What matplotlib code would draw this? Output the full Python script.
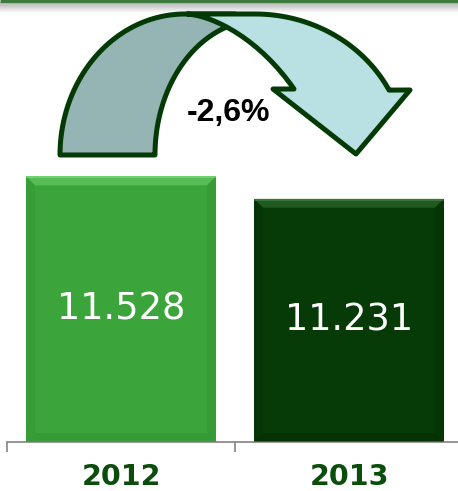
import numpy as np
import matplotlib
matplotlib.use("Agg")
import matplotlib.pyplot as plt
from matplotlib.path import Path
from matplotlib.patches import PathPatch, Polygon

# ---- data ----
years = ["2012", "2013"]
values = [11528, 11231]
bar_colors = ["#3ba53b", "#063a07"]
bevel_light = ["#74d474", "#3b7a3b"]
bevel_dark = ["#2f8a2f", "#032803"]

W, H = 458, 491
fig = plt.figure(figsize=(W / 100, H / 100), dpi=100)
fig.patch.set_facecolor("white")

# main bar axes: x from px 7 to 463, y from px 442 up to 0
ax_left = 7 / W
ax_bottom = (H - 442) / H
ax = fig.add_axes([ax_left, ax_bottom, 456 / W, 442 / H])
ax.set_xlim(-0.5, 1.5)
ax.set_ylim(8000, 13870)
ax.patch.set_alpha(0)

x = np.arange(len(years))
bars = ax.bar(x, values, width=0.833, color=bar_colors, zorder=2)

ypx = (13870 - 8000) / 442.0  # data units per pixel
xpx = 2.0 / 456.0
for b, cl, cd, v in zip(bars, bevel_light, bevel_dark, values):
    x0, w, h, y0 = b.get_x(), b.get_width(), b.get_height(), b.get_y()
    top = y0 + h
    bot = 8000
    bw, bh = 9 * xpx, 9 * ypx
    # top bevel
    ax.add_patch(Polygon([(x0, top), (x0 + w, top), (x0 + w - bw, top - bh), (x0 + bw, top - bh)],
                         closed=True, facecolor=cl, edgecolor="none", alpha=0.5, zorder=3))
    ax.add_patch(Polygon([(x0, top), (x0 + w, top), (x0 + w, top - 2 * ypx), (x0, top - 2 * ypx)],
                         closed=True, facecolor=cl, edgecolor="none", alpha=0.9, zorder=3))
    # side bevels
    ax.add_patch(Polygon([(x0, top), (x0 + bw, top - bh), (x0 + bw, bot + bh), (x0, bot)],
                         closed=True, facecolor=cd, edgecolor="none", alpha=0.25, zorder=3))
    ax.add_patch(Polygon([(x0 + w, top), (x0 + w - bw, top - bh), (x0 + w - bw, bot + bh), (x0 + w, bot)],
                         closed=True, facecolor=cd, edgecolor="none", alpha=0.3, zorder=3))
    ax.add_patch(Polygon([(x0, bot), (x0 + bw, bot + bh), (x0 + w - bw, bot + bh), (x0 + w, bot)],
                         closed=True, facecolor=cd, edgecolor="none", alpha=0.4, zorder=3))
    label = f"{v:,}".replace(",", ".")
    ax.text(x0 + w / 2, (bot + top) / 2, label, ha="center", va="center",
            color="white", fontsize=26.5, family="DejaVu Sans", zorder=4)

for s in ["top", "right", "left"]:
    ax.spines[s].set_visible(False)
ax.spines["bottom"].set_color("#8c8c8c")
ax.spines["bottom"].set_linewidth(1.3)
ax.set_yticks([])
ax.set_xticks([-0.5, 0.5, 1.5])
ax.set_xticklabels([])
ax.tick_params(axis="x", which="major", length=7, width=1.3, color="#8c8c8c", direction="out")
ax.set_xticks(x, minor=True)
ax.set_xticklabels(years, minor=True, fontsize=20.5, fontweight="bold",
                   color="#0b4d0b", family="DejaVu Sans")
ax.tick_params(axis="x", which="minor", length=0, pad=15)

# ---- overlay (decoration) in pixel coordinates ----
ov = fig.add_axes([0, 0, 1, 1])
ov.set_xlim(0, W)
ov.set_ylim(H, 0)
ov.axis("off")
ov.patch.set_alpha(0)

# top border line and soft shadow
grad = np.linspace(0.68, 1.0, 50).reshape(-1, 1)
ov.imshow(np.dstack([grad, grad, grad]), extent=(0, W, 13, 2), aspect="auto", zorder=1)
ov.plot([0, W], [1, 1], color="#3d7a3d", lw=2.2, zorder=2, solid_capstyle="butt")

edge = "#033a05"
lw = 3.6

def ell(cx, cy, rx, ry, t0, t1, n=60):
    t = np.radians(np.linspace(t0, t1, n))
    return list(zip(cx + rx * np.cos(t), cy - ry * np.sin(t)))

# grey tail piece
pts = ell(185, 155, 125, 141, 180, 90)
pts += [(235, 14), (230, 27)]
pts += ell(260, 155, 105, 135, 106.6, 180)
ov.add_patch(Polygon(pts, closed=True, facecolor="#95b4b4", edgecolor=edge, lw=lw,
                     joinstyle="round", zorder=5))

# light blue head piece
verts = [(187, 14), (255, 14)]
codes = [Path.MOVETO, Path.LINETO]
arc = ell(255, 155, 151, 141, 90, 27.4)
verts += arc[1:]
codes += [Path.LINETO] * (len(arc) - 1)
verts += [(410, 90), (356, 154), (273, 89), (294, 89)]
codes += [Path.LINETO] * 4
verts += [(260, 40), (215, 16), (187, 14)]
codes += [Path.CURVE4] * 3
verts += [(187, 14)]
codes += [Path.CLOSEPOLY]
ov.add_patch(PathPatch(Path(verts, codes), facecolor="#b9e0e2", edgecolor=edge, lw=lw,
                       joinstyle="round", zorder=6))

pct = (values[1] / values[0] - 1) * 100
pct_label = f"{pct:.1f}%".replace(".", ",")
ov.text(228, 113, pct_label, ha="center", va="center", fontsize=23, fontweight="bold",
        color="black", family="Liberation Sans", zorder=7)

fig.savefig("out.png", dpi=100, facecolor="white")
